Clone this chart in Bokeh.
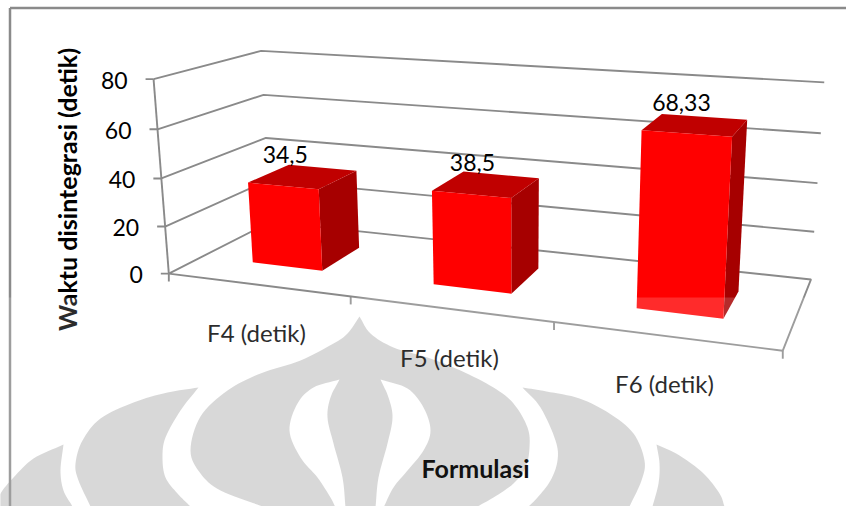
import numpy as np
from bokeh.core.properties import value
from bokeh.embed import file_html
from bokeh.models import Range1d
from bokeh.plotting import figure
from bokeh.resources import INLINE

# Chart content
categories = ["F4 (detik)", "F5 (detik)", "F6 (detik)"]
disintegration = [34.5, 38.5, 68.33]
axis_ticks = [0, 20, 40, 60, 80]
y_title = "Waktu disintegrasi (detik)"
x_title = "Formulasi"

W, H = 846, 506
FONT = "Lato"
GRID = "#8a8a8a"
GRID_W = 1.9


def catmull(chain, n=8):
    """Smooth an open outline chain with a Catmull-Rom spline."""
    pts = np.array(chain, dtype=float)
    pts = np.vstack([2 * pts[0] - pts[1], pts, 2 * pts[-1] - pts[-2]])
    out = []
    for i in range(1, len(pts) - 2):
        p0, p1, p2, p3 = pts[i - 1], pts[i], pts[i + 1], pts[i + 2]
        for t in np.linspace(0, 1, n, endpoint=False):
            out.append(0.5 * ((2 * p1) + (p2 - p0) * t + (2 * p0 - 5 * p1 + 4 * p2 - p3) * t ** 2
                              + (3 * p1 - p0 - 3 * p2 + p3) * t ** 3))
    out.append(pts[-2])
    return np.array(out)


def outline(*chains):
    pts = np.vstack([catmull(c) for c in chains])
    return list(pts[:, 0]), list(pts[:, 1])


# Background emblem, lobe by lobe; each lobe is a pair of edges that meet at a tip.
emblem_lobes = [
    outline([(359, 316), (347, 333), (333, 343), (300, 360), (260, 373), (227, 390), (200, 416),
             (190, 450), (200, 473), (220, 490), (262, 506)],
            [(477, 506), (493, 497), (513, 483), (525, 467), (529, 447), (527, 427), (513, 403),
             (493, 387), (460, 370), (427, 357), (393, 347), (370, 333), (359, 316)]),
    outline([(198, 387), (167, 392), (133, 402), (100, 418), (82, 440), (75, 463), (78, 480), (90, 506)],
            [(190, 506), (177, 493), (165, 477), (162, 457), (165, 437), (180, 410), (198, 387)]),
    outline([(63, 444), (33, 458), (13, 477), (0, 493), (-4, 506)],
            [(72, 506), (63, 490), (60, 470), (63, 444)]),
    outline([(522, 387), (546, 391), (579, 398), (609, 413), (633, 433), (644, 460), (641, 480), (629, 506)],
            [(528, 506), (537, 497), (550, 480), (557, 460), (555, 440), (540, 407), (522, 387)]),
    outline([(656, 444), (679, 455), (703, 473), (719, 493), (724, 506)],
            [(652, 506), (658, 483), (659, 463), (656, 444)]),
]
emblem_holes = [
    outline([(339, 379), (313, 387), (297, 403), (289, 430), (300, 457), (317, 477), (330, 497), (335, 507)],
            [(345, 507), (342, 477), (333, 443), (327, 417), (330, 397), (339, 379)]),
    outline([(380, 379), (407, 388), (423, 407), (430, 430), (423, 450), (407, 470), (393, 487), (383, 507)],
            [(375, 507), (378, 477), (387, 443), (392, 417), (388, 397), (380, 379)]),
]

# Camera of the 3D box: (category position, depth 0..1, axis value) -> page position,
# solved from where the axis ticks and box corners fall on the page.
camera_marks = [
    (0, 0, 0, 168, 273), (0, 0, 20, 164, 226), (0, 0, 40, 161, 178), (0, 0, 60, 157, 129), (0, 0, 80, 154, 79),
    (0, 1, 0, 271, 222), (0, 1, 20, 268, 180), (0, 1, 40, 265, 137), (0, 1, 60, 263, 94), (0, 1, 80, 260, 50),
    (3, 1, 0, 810, 279), (3, 1, 20, 814, 231), (3, 1, 40, 817, 183), (3, 1, 60, 820, 133), (3, 1, 80, 824, 82),
    (3, 0, 0, 783, 350), (1, 0, 0, 350, 296), (2, 0, 0, 553, 321),
]
A, b = [], []
for u, d, v, x, y in camera_marks:
    A.append([u, d, v, 1, 0, 0, 0, 0, -x * u, -x * d, -x * v])
    b.append(x)
    A.append([0, 0, 0, 0, u, d, v, 1, -y * u, -y * d, -y * v])
    b.append(y)
sol = np.linalg.lstsq(np.array(A, dtype=float), np.array(b, dtype=float), rcond=None)[0]
P = np.append(sol, 1.0).reshape(3, 4)


def project(u, d, v):
    q = P @ np.array([u, d, v, 1.0])
    return q[0] / q[2], q[1] / q[2]


def floor_coords(x, y):
    """Page position on the floor plane -> (category position, depth)."""
    q = np.linalg.solve(P[:, [0, 1, 3]], np.array([x, y, 1.0]))
    return q[0] / q[2], q[1] / q[2]


# Foot of each bar on the page: front-left, front-right, back-right
bar_feet = [
    [(252, 262), (322, 270), (357, 247)],
    [(433, 284), (511, 293), (537, 268)],
    [(636, 308), (723, 318), (738, 291)],
]
footprints = []
for fl, fr, br in bar_feet:
    u0, d0a = floor_coords(*fl)
    u1, d0b = floor_coords(*fr)
    _, d1 = floor_coords(*br)
    footprints.append((u0, u1, (d0a + d0b) / 2, d1))

p = figure(width=W, height=H, output_backend="svg", toolbar_location=None,
           x_range=Range1d(0, W), y_range=Range1d(H, 0), min_border=0,
           x_axis_type=None, y_axis_type=None, outline_line_color=None,
           background_fill_color="white", border_fill_color="white")
p.xgrid.visible = False
p.ygrid.visible = False

# Emblem behind the chart
p.patches([l[0] for l in emblem_lobes], [l[1] for l in emblem_lobes],
          fill_color="#d1d1d1", line_color=None)
p.patches([l[0] for l in emblem_holes], [l[1] for l in emblem_holes],
          fill_color="white", line_color=None)

# Chart frame
p.line([9.5, 9.5], [H, 7.5], line_color=GRID, line_width=2.5)
p.line([9.5, W], [7.5, 7.5], line_color=GRID, line_width=2.5)

# Gridlines on the side and back walls
for v in axis_ticks[1:]:
    pts = [project(0, 0, v), project(0, 1, v), project(3, 1, v)]
    p.line([q[0] for q in pts], [q[1] for q in pts], line_color=GRID, line_width=GRID_W)

# Floor outline
floor = [project(0, 1, 0), project(3, 1, 0), project(3, 0, 0), project(0, 0, 0), project(0, 1, 0)]
p.line([q[0] for q in floor], [q[1] for q in floor], line_color=GRID, line_width=GRID_W)

# Value axis with ticks and labels
a0, a1 = project(0, 0, 0), project(0, 0, axis_ticks[-1])
p.line([a0[0], a1[0]], [a0[1], a1[1]], line_color=GRID, line_width=GRID_W)
for v in axis_ticks:
    x, y = project(0, 0, v)
    p.line([x - 8, x], [y, y], line_color=GRID, line_width=GRID_W)
p.text([project(0, 0, v)[0] - 26 for v in axis_ticks],
       [project(0, 0, v)[1] + 1 for v in axis_ticks],
       text=[str(v) for v in axis_ticks], text_font=value(FONT), text_font_size="23px",
       text_align="right", text_baseline="middle", text_color="black")

# Category ticks
for i in range(len(categories) + 1):
    x, y = project(i, 0, 0)
    p.line([x, x], [y, y + 8], line_color=GRID, line_width=GRID_W)

# Bars, drawn from their values
for (u0, u1, d0, d1), v in zip(footprints, disintegration):
    fbl, fbr = project(u0, d0, 0), project(u1, d0, 0)
    ftl, ftr = project(u0, d0, v), project(u1, d0, v)
    bbr, btr, btl = project(u1, d1, 0), project(u1, d1, v), project(u0, d1, v)
    for face, colour in (([ftr, fbr, bbr, btr], "#a60000"),
                         ([ftl, ftr, btr, btl], "#c00000"),
                         ([ftl, ftr, fbr, fbl], "#ff0000")):
        p.patch([q[0] for q in face], [q[1] for q in face], fill_color=colour, line_color=None)

# Value labels sit just above the top face of each bar
label_shift = [-18, -14, -14]
label_x, label_y = [], []
for (u0, u1, d0, d1), v, dx in zip(footprints, disintegration, label_shift):
    x, y = project((u0 + u1) / 2, (d0 + d1) / 2, v)
    label_x.append(x + dx)
    label_y.append(y - 22)
p.text(label_x, label_y, text=[str(v).replace(".", ",") for v in disintegration],
       text_font=value(FONT), text_font_size="23px", text_align="center",
       text_baseline="middle", text_color="black")

# Category labels
p.text([256, 449, 664], [332, 357, 383], text=categories, text_font=value(FONT),
       text_font_size="24px", text_align="center", text_baseline="middle", text_color="black")

# Value axis title
p.text([66], [189], text=[y_title], angle=np.pi / 2, text_font=value(FONT),
       text_font_size="25px", text_font_style="bold", text_align="center",
       text_baseline="middle", text_color="black")

# Pale veil over the lower part of the page
p.quad(left=0, right=W, top=297, bottom=H, fill_color="white", fill_alpha=0.17, line_color=None)

# Category axis title
p.text([475], [467], text=[x_title], text_font=value(FONT), text_font_size="25px",
       text_font_style="bold", text_align="center", text_baseline="middle", text_color="#111111")

open("out.html", "w").write(file_html(p, INLINE))
